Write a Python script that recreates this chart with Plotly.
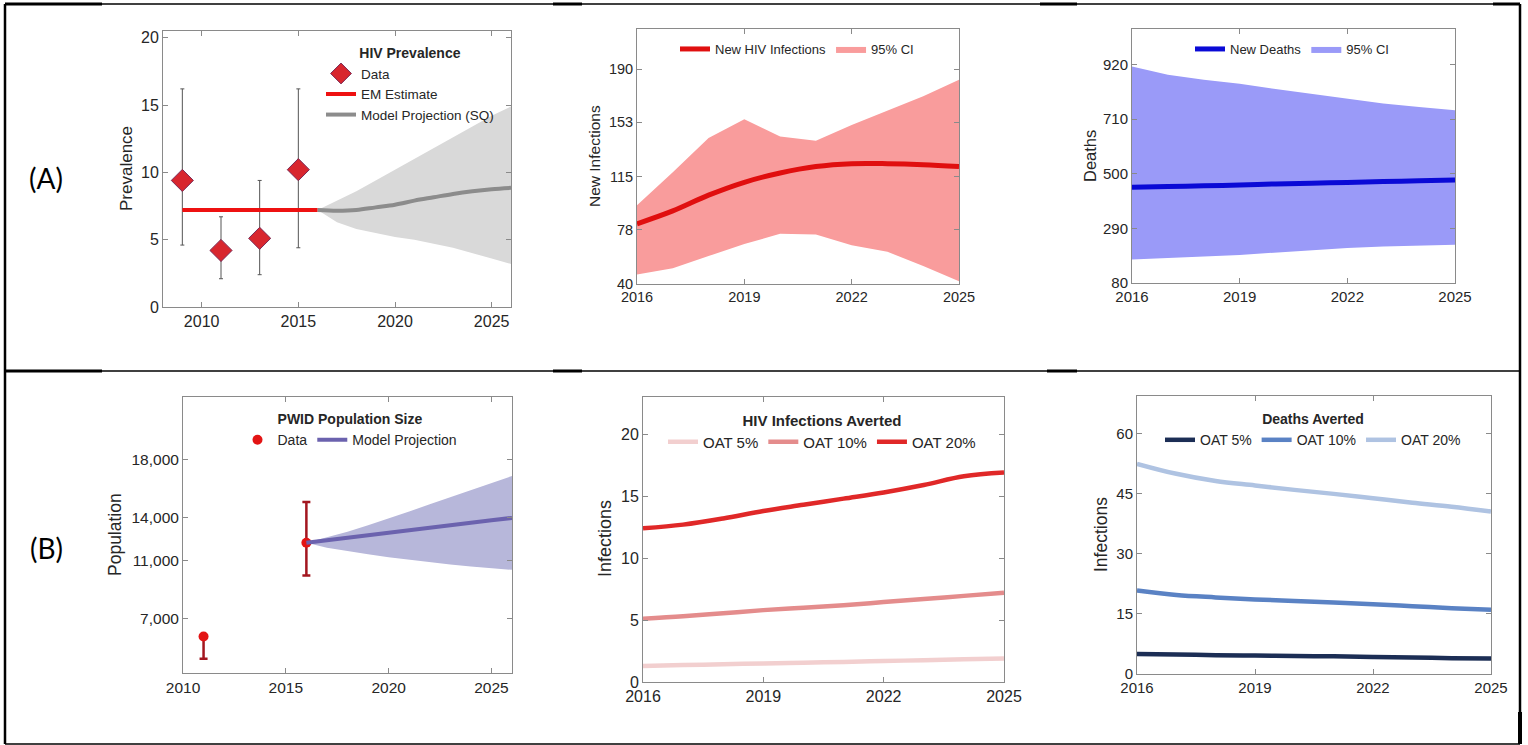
import plotly.graph_objects as go

W, H = 1528, 745

# ---------------- data ----------------
# (A) HIV prevalence
prev_years = [2009, 2011, 2013, 2015]
prev_vals = [9.4, 4.2, 5.1, 10.2]
prev_lo = [4.6, 2.1, 2.4, 4.4]
prev_hi = [16.2, 6.7, 9.4, 16.2]
em_years = [2009, 2016]
em_vals = [7.2, 7.2]
proj_years = [2016, 2017, 2018, 2019, 2020, 2021, 2022, 2023, 2024, 2025, 2026]
proj_mid = [7.2, 7.15, 7.2, 7.4, 7.6, 7.9, 8.15, 8.4, 8.6, 8.75, 8.85]
proj_up = [7.2, 7.9, 8.6, 9.4, 10.2, 11.0, 11.8, 12.6, 13.4, 14.2, 14.9]
proj_lo = [7.2, 6.3, 5.8, 5.5, 5.2, 5.0, 4.7, 4.4, 4.0, 3.6, 3.2]

# (A) new infections and deaths, 2016-2025
years = [2016, 2017, 2018, 2019, 2020, 2021, 2022, 2023, 2024, 2025]
inf_mid = [82, 91, 102, 111, 117.5, 122, 124, 124, 123.3, 122]
inf_up = [95, 118, 142, 155, 143, 140, 151, 161, 171, 182.5]
inf_lo = [46.6, 51, 59.5, 68, 75, 74.5, 67, 62.5, 52.5, 42]
inf_ticks = [40, 78, 115, 153, 190]

dth_mid = [448, 451, 454, 457, 461, 464, 467, 470, 473, 476]
dth_up = [913, 881, 862, 846, 826, 807, 789, 770, 757, 744]
dth_lo = [170, 176, 182, 188, 197, 206, 215, 220, 224, 227]
dth_ticks = [80, 290, 500, 710, 920]

# (B) PWID population size
pop_years = [2011, 2016]
pop_vals = [5780, 12240]
pop_lo = [4240, 9990]
pop_hi = [5780, 15060]
pop_proj_years = [2016, 2017, 2018, 2019, 2020, 2021, 2022, 2023, 2024, 2025, 2026]
pop_mid = [12240, 12420, 12590, 12760, 12930, 13100, 13280, 13450, 13620, 13790, 13960]
pop_up = [12240, 12600, 13000, 13450, 13900, 14400, 14900, 15400, 15900, 16350, 16850]
pop_lo_band = [12240, 11900, 11650, 11450, 11250, 11050, 10900, 10750, 10600, 10480, 10380]
pop_ticks = [7000, 11000, 14000, 18000]
pop_ticktext = ["7,000", "11,000", "14,000", "18,000"]

# (B) infections averted by OAT scale-up
inf_av_5 = [1.3, 1.37, 1.43, 1.5, 1.56, 1.62, 1.69, 1.76, 1.83, 1.9]
inf_av_10 = [5.1, 5.3, 5.55, 5.8, 6.0, 6.2, 6.45, 6.7, 6.95, 7.2]
inf_av_20 = [12.4, 12.7, 13.2, 13.8, 14.3, 14.8, 15.3, 15.9, 16.6, 16.9]

# (B) deaths averted by OAT scale-up
dth_av_5 = [5.0, 4.85, 4.7, 4.6, 4.5, 4.4, 4.25, 4.1, 3.95, 3.85]
dth_av_10 = [20.8, 19.7, 19.1, 18.6, 18.2, 17.8, 17.4, 16.9, 16.4, 16.0]
dth_av_20 = [52.4, 49.9, 48.1, 47.0, 45.9, 44.9, 43.8, 42.7, 41.7, 40.5]

oat_names = ["OAT 5%", "OAT 10%", "OAT 20%"]


# ---------------- helpers ----------------
def px(x):
    return x / W


def py(y):
    return 1 - y / H


TXT = "#262626"
AX = "#8a8a8a"
FONT = "Liberation Sans, Arial, sans-serif"

fig = go.Figure()


def band(x, lo, hi, color, xa, ya, name=None, legend=None, show=False):
    fig.add_trace(go.Scatter(
        x=list(x) + list(x)[::-1], y=list(hi) + list(lo)[::-1],
        fill="toself", fillcolor=color, line=dict(width=0, color=color),
        mode="lines", xaxis=xa, yaxis=ya, name=name or "", hoverinfo="skip",
        showlegend=show, legend=legend or "legend"))


# ---- (A) prevalence ----
band(proj_years, proj_lo, proj_up, "#d9d9d9", "x", "y")
fig.add_trace(go.Scatter(
    x=prev_years, y=prev_vals, mode="markers", name="Data",
    marker=dict(symbol="diamond", size=17, color="#d8262e",
                line=dict(color="#7a2a55", width=1)),
    error_y=dict(type="data", symmetric=False,
                 array=[h - v for h, v in zip(prev_hi, prev_vals)],
                 arrayminus=[v - l for l, v in zip(prev_lo, prev_vals)],
                 color="#555555", thickness=1, width=2),
    xaxis="x", yaxis="y", legend="legend"))
fig.add_trace(go.Scatter(
    x=em_years, y=em_vals, mode="lines", name="EM Estimate",
    line=dict(color="#ee1111", width=4), xaxis="x", yaxis="y", legend="legend"))
fig.add_trace(go.Scatter(
    x=proj_years, y=proj_mid, mode="lines", name="Model Projection (SQ)",
    line=dict(color="#8c8c8c", width=4, shape="spline"),
    xaxis="x", yaxis="y", legend="legend"))

# ---- (A) new infections ----
fig.add_trace(go.Scatter(
    x=years, y=inf_mid, mode="lines", name="New HIV Infections",
    line=dict(color="#e00f0f", width=5, shape="spline"),
    xaxis="x2", yaxis="y2", legend="legend2"))
band(years, inf_lo, inf_up, "#f99c9c", "x2", "y2", "95% CI", "legend2", True)
# redraw the central line on top of the band
fig.add_trace(go.Scatter(
    x=years, y=inf_mid, mode="lines", showlegend=False,
    line=dict(color="#e00f0f", width=5, shape="spline"),
    xaxis="x2", yaxis="y2"))

# ---- (A) deaths ----
fig.add_trace(go.Scatter(
    x=years, y=dth_mid, mode="lines", name="New Deaths",
    line=dict(color="#0a0ad6", width=5, shape="spline"),
    xaxis="x3", yaxis="y3", legend="legend3"))
band(years, dth_lo, dth_up, "#9a9af8", "x3", "y3", "95% CI", "legend3", True)
fig.add_trace(go.Scatter(
    x=years, y=dth_mid, mode="lines", showlegend=False,
    line=dict(color="#0a0ad6", width=5, shape="spline"),
    xaxis="x3", yaxis="y3"))

# ---- (B) population ----
band(pop_proj_years, pop_lo_band, pop_up, "#b7b7da", "x4", "y4")
fig.add_trace(go.Scatter(
    x=pop_years, y=pop_vals, mode="markers", name="Data",
    marker=dict(symbol="circle", size=10, color="#e31414"),
    error_y=dict(type="data", symmetric=False,
                 array=[h - v for h, v in zip(pop_hi, pop_vals)],
                 arrayminus=[v - l for l, v in zip(pop_lo, pop_vals)],
                 color="#a3161f", thickness=2.5, width=4),
    xaxis="x4", yaxis="y4", legend="legend4"))
fig.add_trace(go.Scatter(
    x=pop_proj_years, y=pop_mid, mode="lines", name="Model Projection",
    line=dict(color="#6b62ae", width=4),
    xaxis="x4", yaxis="y4", legend="legend4"))

# ---- (B) infections averted ----
for name, vals, col in zip(oat_names, [inf_av_5, inf_av_10, inf_av_20],
                           ["#f2cfcf", "#e48c8c", "#e02828"]):
    fig.add_trace(go.Scatter(
        x=years, y=vals, mode="lines", name=name,
        line=dict(color=col, width=4.5, shape="spline"),
        xaxis="x5", yaxis="y5", legend="legend5"))

# ---- (B) deaths averted ----
for name, vals, col in zip(oat_names, [dth_av_5, dth_av_10, dth_av_20],
                           ["#1c2e55", "#5a82c4", "#afc3e2"]):
    fig.add_trace(go.Scatter(
        x=years, y=vals, mode="lines", name=name,
        line=dict(color=col, width=4.5, shape="spline"),
        xaxis="x6", yaxis="y6", legend="legend6"))


# ---------------- axes ----------------
def axis(domain_px, rng, vertical, anchor, fs, **kw):
    if vertical:
        dom = [py(domain_px[1]), py(domain_px[0])]
    else:
        dom = [px(domain_px[0]), px(domain_px[1])]
    d = dict(domain=dom, range=rng, anchor=anchor, showgrid=False,
             zeroline=False, showline=True, linecolor=AX, linewidth=1,
             mirror="ticks", ticks="inside", ticklen=5, tickcolor=AX,
             automargin=False,
             tickfont=dict(family=FONT, size=fs, color=TXT))
    d.update(kw)
    return d


panels = {
    # x px range, y px range (top, bottom), tick font size
    1: ((163, 511), (31, 307), 16),
    2: ((637, 959), (29, 284), 14.5),
    3: ((1132, 1455), (29, 283), 15),
    4: ((183, 512), (397, 673), 15.5),
    5: ((643, 1004), (397, 682), 16),
    6: ((1137, 1491), (396, 674), 15),
}

specs = {
    1: ([2008, 2026], [2010, 2015, 2020, 2025], [0, 20.5], dict(tickvals=[0, 5, 10, 15, 20])),
    2: ([2016, 2025], [2016, 2019, 2022, 2025], [40, 218], dict(tickvals=inf_ticks)),
    3: ([2016, 2025], [2016, 2019, 2022, 2025], [80, 1057], dict(tickvals=dth_ticks)),
    4: ([2010, 2026], [2010, 2015, 2020, 2025], [3260, 22300],
        dict(tickvals=pop_ticks, ticktext=pop_ticktext)),
    5: ([2016, 2025], [2016, 2019, 2022, 2025], [0, 23], dict(tickvals=[0, 5, 10, 15, 20])),
    6: ([2016, 2025], [2016, 2019, 2022, 2025], [0, 69.3], dict(tickvals=[0, 15, 30, 45, 60])),
}

lay = {}
for i in range(1, 7):
    xr, yr, fs = panels[i]
    xrng, xt, yrng, ykw = specs[i]
    sfx = "" if i == 1 else str(i)
    lay["xaxis" + sfx] = axis(xr, xrng, False, "y" + sfx, fs, tickvals=xt)
    lay["yaxis" + sfx] = axis(yr, yrng, True, "x" + sfx, fs, **ykw)


# ---------------- legends ----------------
def legend(cx, top, orient, fs, title=None):
    d = dict(x=px(cx), y=py(top), xanchor="center", yanchor="top",
             orientation=orient, bgcolor="rgba(0,0,0,0)", borderwidth=0,
             font=dict(family=FONT, size=fs, color=TXT),
             itemwidth=30, tracegroupgap=0, traceorder="normal")
    if title:
        d["title"] = dict(text="<b>" + title + "</b>", side="top center",
                          font=dict(family=FONT, size=14, color=TXT))
    return d


lay["legend"] = legend(410, 40, "v", 13.5, "HIV Prevalence")
lay["legend2"] = legend(797, 34, "h", 13)
lay["legend3"] = legend(1292, 34, "h", 13)
lay["legend4"] = legend(350, 406, "h", 14, "PWID Population Size")
lay["legend5"] = legend(822, 406, "h", 15, "HIV Infections Averted")
lay["legend5"]["title"]["font"]["size"] = 15
lay["legend6"] = legend(1313, 406, "h", 14, "Deaths Averted")


# ---------------- table frame ----------------
def seg(x0, y0, x1, y1, w=1.5):
    return dict(type="line", xref="paper", yref="paper",
                x0=px(x0), y0=py(y0), x1=px(x1), y1=py(y1),
                line=dict(color="black", width=w), layer="above")


shapes = [
    seg(5, 4, 1520, 4, 1.5),
    seg(5, 371, 1520, 371, 1.5),
    seg(5, 744, 1520, 744, 1.5),
    seg(5, 4, 5, 744, 2.5),
    seg(1520, 4, 1520, 744, 2.5),
    # heavier segments where the table's cell borders meet
    seg(5, 4, 102, 4, 3), seg(553, 4, 582, 4, 3), seg(1040, 4, 1077, 4, 3),
    seg(1493, 4, 1520, 4, 3),
    seg(5, 371, 102, 371, 3), seg(553, 371, 582, 371, 3),
    seg(1047, 371, 1077, 371, 3),
    seg(1520, 712, 1520, 744, 4),
]


# ---------------- text ----------------
def ytitle(text, cx, cy, fs):
    return dict(text=text, x=px(cx), y=py(cy), xref="paper", yref="paper",
                textangle=-90, showarrow=False, xanchor="center", yanchor="middle",
                font=dict(family=FONT, size=fs, color=TXT))


def row_label(text, cx, cy):
    return dict(text=text, x=px(cx), y=py(cy), xref="paper", yref="paper",
                showarrow=False, xanchor="center", yanchor="middle",
                font=dict(family="Lato, Carlito, sans-serif", size=28, color="black"))


annotations = [
    ytitle("Prevalence", 126, 169, 17),
    ytitle("New Infections", 594, 156, 15.5),
    ytitle("Deaths", 1090, 156, 16.5),
    ytitle("Population", 115, 535, 17.5),
    ytitle("Infections", 605, 539, 18),
    ytitle("Infections", 1101, 535, 17.5),
    row_label("(A)", 46, 178),
    row_label("(B)", 46, 548),
]

fig.update_layout(
    width=W, height=H, margin=dict(l=0, r=0, t=0, b=0, autoexpand=False),
    paper_bgcolor="white", plot_bgcolor="white",
    font=dict(family=FONT, color=TXT), shapes=shapes,
    annotations=annotations, **lay)

fig.write_html("out.html")
